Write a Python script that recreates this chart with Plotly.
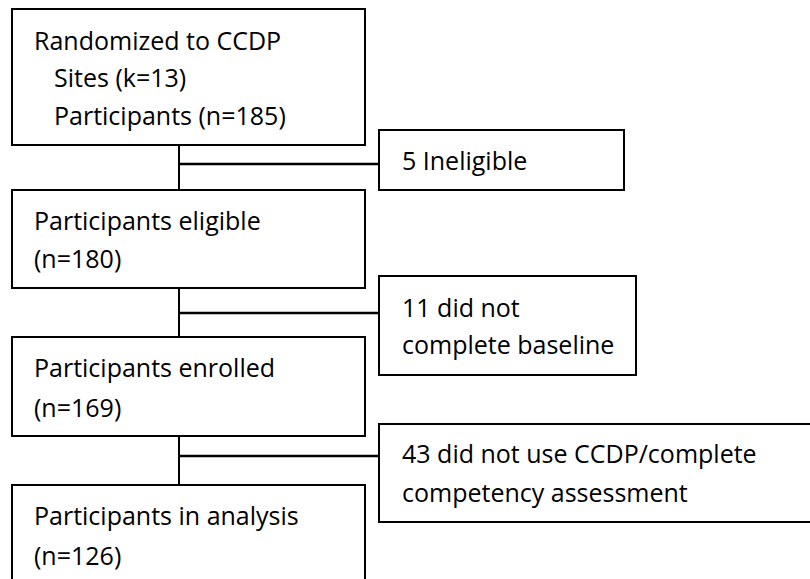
import plotly.graph_objects as go

# Flow-chart content
main_labels = [
    ["Randomized to CCDP", "Sites (k=13)", "Participants (n=185)"],
    ["Participants eligible", "(n=180)"],
    ["Participants enrolled", "(n=169)"],
    ["Participants in analysis", "(n=126)"],
]
side_labels = [
    ["5 Ineligible"],
    ["11 did not", "complete baseline"],
    ["43 did not use CCDP/complete", "competency assessment"],
]

# Layout geometry (pixels)
W, H = 810, 579
main_boxes = [(12, 9, 365, 145), (12, 190, 365, 288), (12, 337, 365, 436), (12, 485, 365, 600)]
side_boxes = [(379, 130, 624, 190), (379, 276, 636, 375), (379, 424, 812, 522)]
main_text_y = [[40, 77, 115], [220, 258], [367, 407], [515, 555]]
side_text_y = [[160], [307, 344], [453, 492]]
main_text_x = [[32, 52, 52], [32, 32], [32, 32], [32, 32]]
side_text_x = 400
spine_x = 179
connector_y = [164, 313, 456]

FONT = dict(family="Open Sans, Noto Sans, sans-serif", size=25, color="#000000")
LW = 2

fig = go.Figure()
fig.add_trace(go.Scatter(x=[0, W], y=[0, H], mode="markers", marker=dict(opacity=0), hoverinfo="skip", showlegend=False))

shapes = []
for (x0, y0, x1, y1) in main_boxes + side_boxes:
    shapes.append(dict(type="rect", x0=x0, y0=y0, x1=x1, y1=y1, xref="x", yref="y",
                       line=dict(color="#000", width=LW), fillcolor="rgba(0,0,0,0)"))
for i in range(3):
    top = main_boxes[i][3]
    bot = main_boxes[i + 1][1]
    shapes.append(dict(type="line", x0=spine_x, x1=spine_x, y0=top, y1=bot, xref="x", yref="y",
                       line=dict(color="#000", width=LW)))
    shapes.append(dict(type="line", x0=spine_x, x1=side_boxes[i][0], y0=connector_y[i], y1=connector_y[i],
                       xref="x", yref="y", line=dict(color="#000", width=LW + 0.5)))

annotations = []
for lines, ys, xs in zip(main_labels, main_text_y, main_text_x):
    for t, y, x in zip(lines, ys, xs):
        annotations.append(dict(x=x, y=y, text=t, xref="x", yref="y", showarrow=False,
                                xanchor="left", yanchor="middle", font=FONT))
for lines, ys in zip(side_labels, side_text_y):
    for t, y in zip(lines, ys):
        annotations.append(dict(x=side_text_x, y=y, text=t, xref="x", yref="y", showarrow=False,
                                xanchor="left", yanchor="middle", font=FONT))

fig.update_layout(
    width=W, height=H, margin=dict(l=0, r=0, t=0, b=0),
    paper_bgcolor="white", plot_bgcolor="white",
    xaxis=dict(range=[0, W], visible=False, fixedrange=True),
    yaxis=dict(range=[H, 0], visible=False, fixedrange=True),
    shapes=shapes, annotations=annotations, showlegend=False,
)
fig.write_html("out.html", config={"displayModeBar": False},
               post_script="document.body.style.margin='0';document.body.style.overflow='hidden';")
